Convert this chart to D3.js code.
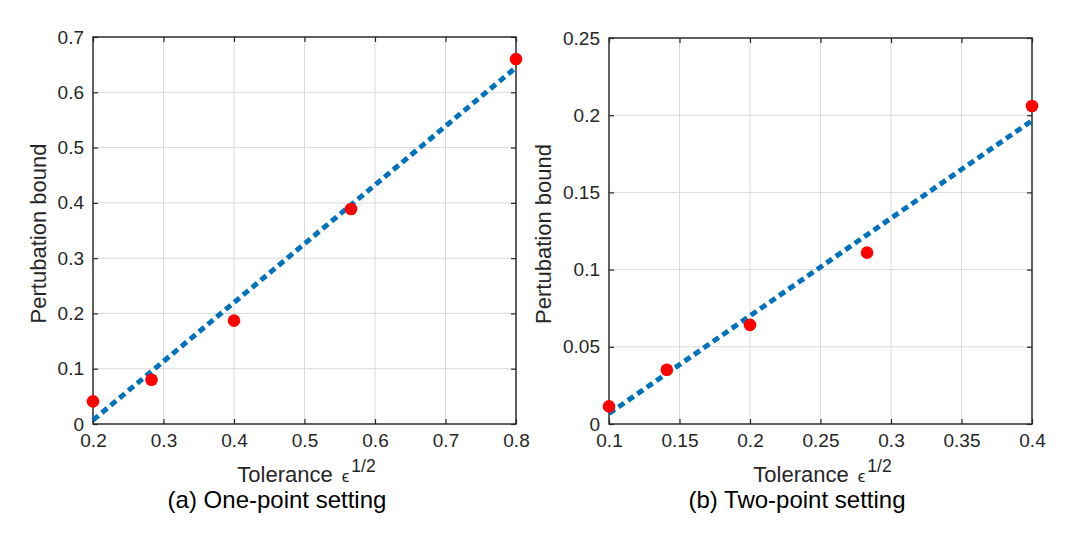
<!DOCTYPE html>
<html>
<head>
<meta charset="utf-8">
<script src="https://cdn.jsdelivr.net/npm/d3@7"></script>
<style>
  body { margin: 0; background: #fff; }
  text { font-family: "Liberation Sans", Arial, sans-serif; fill: #262626; }
</style>
</head>
<body>
<script>
// Stage
let width = 1075;
let height = 545;

let svg = d3.select("body")
            .append("svg")
            .attr("width", width)
            .attr("height", height);

// Colors
let marker_color = "#ff0000";
let line_color = "#0072bd";
let grid_color = "#d9d9d9";
let axis_color = "#262626";

// (a) One-point setting
let a_x = [0.2, 0.283, 0.4, 0.566, 0.8];
let a_y = [0.041, 0.080, 0.187, 0.389, 0.660];
let a_fit_x = [0.2, 0.8];
let a_fit_y = [0.007, 0.645];
let a_xticks = [0.2, 0.3, 0.4, 0.5, 0.6, 0.7, 0.8];
let a_yticks = [0, 0.1, 0.2, 0.3, 0.4, 0.5, 0.6, 0.7];

// (b) Two-point setting
let b_x = [0.1, 0.141, 0.2, 0.283, 0.4];
let b_y = [0.0114, 0.0351, 0.0642, 0.111, 0.206];
let b_fit_x = [0.1, 0.4];
let b_fit_y = [0.0068, 0.1965];
let b_xticks = [0.1, 0.15, 0.2, 0.25, 0.3, 0.35, 0.4];
let b_yticks = [0, 0.05, 0.1, 0.15, 0.2, 0.25];

function drawPanel(opt) {
    let g = svg.append("g");
    let x = d3.scaleLinear().domain(opt.xdom).range([opt.left, opt.right]);
    let y = d3.scaleLinear().domain(opt.ydom).range([opt.bottom, opt.top]);

    // grid
    g.selectAll(".gx").data(opt.xticks).enter().append("line")
        .attr("x1", d => x(d)).attr("x2", d => x(d))
        .attr("y1", opt.top).attr("y2", opt.bottom)
        .attr("stroke", grid_color).attr("stroke-width", 1);
    g.selectAll(".gy").data(opt.yticks).enter().append("line")
        .attr("y1", d => y(d)).attr("y2", d => y(d))
        .attr("x1", opt.left).attr("x2", opt.right)
        .attr("stroke", grid_color).attr("stroke-width", 1);

    // axes (ticks inward on all four sides)
    let fmt = d => String(+d.toFixed(3));
    let bottomAxis = d3.axisBottom(x).tickValues(opt.xticks).tickSizeInner(-5).tickSizeOuter(0).tickPadding(10).tickFormat(fmt);
    let topAxis = d3.axisTop(x).tickValues(opt.xticks).tickSizeInner(-5).tickSizeOuter(0).tickFormat("");
    let leftAxis = d3.axisLeft(y).tickValues(opt.yticks).tickSizeInner(-5).tickSizeOuter(0).tickPadding(9).tickFormat(fmt);
    let rightAxis = d3.axisRight(y).tickValues(opt.yticks).tickSizeInner(-5).tickSizeOuter(0).tickFormat("");

    [[bottomAxis, "translate(0," + opt.bottom + ")"],
     [topAxis, "translate(0," + opt.top + ")"],
     [leftAxis, "translate(" + opt.left + ",0)"],
     [rightAxis, "translate(" + opt.right + ",0)"]].forEach(function(a) {
        let ax = g.append("g").attr("transform", a[1]).call(a[0]);
        ax.select(".domain").remove();
        ax.selectAll("line").attr("stroke", axis_color).attr("stroke-width", 1.2);
        ax.selectAll("text").attr("font-size", 19).attr("fill", axis_color)
            .style("font-family", "'Liberation Sans', Arial, sans-serif");
    });

    g.append("rect")
        .attr("x", opt.left).attr("y", opt.top)
        .attr("width", opt.right - opt.left).attr("height", opt.bottom - opt.top)
        .attr("fill", "none").attr("stroke", axis_color).attr("stroke-width", 1.4);

    // fitted line
    let fit = opt.fitx.map((d, i) => [d, opt.fity[i]]);
    g.append("path")
        .datum(fit)
        .attr("d", d3.line().x(d => x(d[0])).y(d => y(d[1])))
        .attr("fill", "none")
        .attr("stroke", line_color)
        .attr("stroke-width", 5)
        .attr("stroke-dasharray", "7,4.5");

    // data points
    let pts = opt.px.map((d, i) => [d, opt.py[i]]);
    g.selectAll(".pt").data(pts).enter().append("circle")
        .attr("cx", d => x(d[0])).attr("cy", d => y(d[1]))
        .attr("r", 6.3)
        .attr("fill", marker_color);

    // labels
    let xl = g.append("text")
        .attr("x", (opt.left + opt.right) / 2 + 2)
        .attr("y", 482)
        .attr("text-anchor", "middle")
        .attr("font-size", 22);
    xl.append("tspan").text("Tolerance ");
    xl.append("tspan").attr("font-size", 17).attr("dx", 3).text("\u03f5");
    xl.append("tspan").attr("font-size", 17.5).attr("dx", 2).attr("dy", -10).text("1/2");

    g.append("text")
        .attr("transform", "translate(" + opt.ylabx + "," + ((opt.top + opt.bottom) / 2 + 3) + ") rotate(-90)")
        .attr("text-anchor", "middle")
        .attr("font-size", 22)
        .text("Pertubation bound");

    g.append("text")
        .attr("x", opt.capx)
        .attr("y", 508)
        .attr("text-anchor", "middle")
        .attr("font-size", 24)
        .style("fill", "#000")
        .text(opt.caption);
}

drawPanel({
    left: 93, right: 516, top: 37, bottom: 424,
    xdom: [0.2, 0.8], ydom: [0, 0.7],
    xticks: a_xticks, yticks: a_yticks,
    px: a_x, py: a_y, fitx: a_fit_x, fity: a_fit_y,
    ylabx: 46, capx: 277, caption: "(a) One-point setting"
});

drawPanel({
    left: 609, right: 1032, top: 38, bottom: 424,
    xdom: [0.1, 0.4], ydom: [0, 0.25],
    xticks: b_xticks, yticks: b_yticks,
    px: b_x, py: b_y, fitx: b_fit_x, fity: b_fit_y,
    ylabx: 551, capx: 797, caption: "(b) Two-point setting"
});
</script>
</body>
</html>
